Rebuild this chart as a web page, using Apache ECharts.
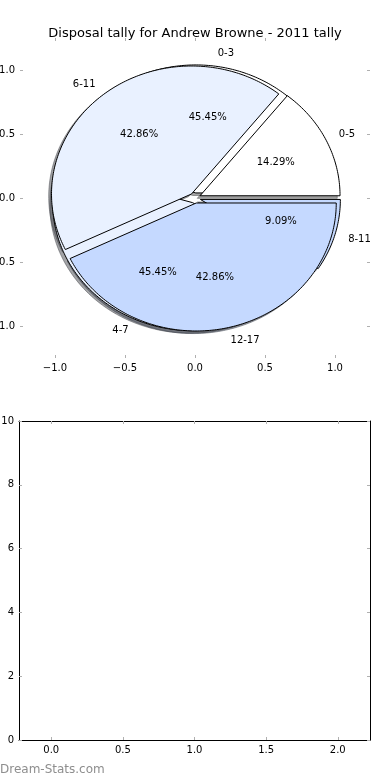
<!DOCTYPE html>
<html><head><meta charset="utf-8">
<script src="https://cdn.jsdelivr.net/npm/echarts@6/dist/echarts.min.js"></script>
<style>html,body{margin:0;padding:0;background:#fff}#c{width:390px;height:780px}</style>
</head><body><div id="c"></div>
<script>
// ---- data ----
const chartTitle = 'Disposal tally for Andrew Browne - 2011 tally';
const pieALabels = ['0-5', '6-11', '12-17'];
const pieAValues = [1, 3, 3];
const pieBLabels = ['0-3', '4-7', '8-11'];
const pieBValues = [5, 5, 1];
const pieTicks = [-1.0, -0.5, 0.0, 0.5, 1.0];
const emptyXTicks = [0.0, 0.5, 1.0, 1.5, 2.0];
const emptyYTicks = [0, 2, 4, 6, 8, 10];
const watermark = 'Dream-Stats.com';

// ---- style ----
const sliceColors = ['#ffffff', '#e9f1ff', '#c5d9ff'];
const explode = 0.04;
const FONT = 'DejaVu Sans';

function wedgeList(labels, values) {
  const total = values.reduce((a, b) => a + b, 0);
  let cum = 0;
  return values.map((v, i) => {
    const t1 = cum / total * 360; cum += v; const t2 = cum / total * 360;
    const tm = (t1 + t2) / 2 * Math.PI / 180;
    return { label: labels[i], frac: v / total, t1, t2, tm,
      cx: explode * Math.cos(tm), cy: explode * Math.sin(tm),
      color: sliceColors[i % sliceColors.length] };
  });
}
const wedgesA = wedgeList(pieALabels, pieAValues);
const wedgesB = wedgeList(pieBLabels, pieBValues);
const allWedges = wedgesB.concat(wedgesA);

function wedgePoints(api, w, ox, oy) {
  const pts = [api.coord([w.cx + ox, w.cy + oy])];
  const n = Math.max(4, Math.ceil(w.t2 - w.t1));
  for (let k = 0; k <= n; k++) {
    const a = (w.t1 + (w.t2 - w.t1) * k / n) * Math.PI / 180;
    pts.push(api.coord([w.cx + ox + Math.cos(a), w.cy + oy + Math.sin(a)]));
  }
  return pts;
}
function shade(hex) {
  const r = parseInt(hex.slice(1, 3), 16), g = parseInt(hex.slice(3, 5), 16), b = parseInt(hex.slice(5, 7), 16);
  return 'rgba(' + Math.round(r * 0.3) + ',' + Math.round(g * 0.3) + ',' + Math.round(b * 0.3) + ',0.5)';
}
function wedgeSeries(wedges, z) {
  return {
    type: 'custom', coordinateSystem: 'cartesian2d', xAxisIndex: 0, yAxisIndex: 0, z, clip: false, silent: true,
    data: wedges.map(w => [w.cx, w.cy]),
    renderItem: (params, api) => {
      const w = wedges[params.dataIndex];
      return { type: 'polygon', shape: { points: wedgePoints(api, w, 0, 0) },
        style: { fill: w.color, stroke: '#000', lineWidth: 1, lineJoin: 'miter' } };
    }
  };
}
const shadowSeries = {
  type: 'custom', coordinateSystem: 'cartesian2d', xAxisIndex: 0, yAxisIndex: 0, z: 1, clip: false, silent: true,
  data: allWedges.map(w => [w.cx, w.cy]),
  renderItem: (params, api) => {
    const w = allWedges[params.dataIndex];
    const c = shade(w.color);
    return { type: 'polygon', shape: { points: wedgePoints(api, w, -0.02, -0.02) },
      style: { fill: c, stroke: c, lineWidth: 1 } };
  }
};
const labelSeries = {
  type: 'custom', coordinateSystem: 'cartesian2d', xAxisIndex: 0, yAxisIndex: 0, z: 10, clip: false, silent: true,
  data: allWedges.map(w => [w.cx, w.cy]),
  renderItem: (params, api) => {
    const w = allWedges[params.dataIndex];
    const lx = w.cx + 1.1 * Math.cos(w.tm), ly = w.cy + 1.1 * Math.sin(w.tm);
    const px = w.cx + 0.6 * Math.cos(w.tm), py = w.cy + 0.6 * Math.sin(w.tm);
    const lp = api.coord([lx, ly]), pp = api.coord([px, py]);
    return { type: 'group', children: [
      { type: 'text', x: lp[0], y: lp[1], style: { text: w.label, fill: '#000', font: '10px ' + FONT,
        align: lx > 0 ? 'left' : 'right', verticalAlign: 'middle' } },
      { type: 'text', x: pp[0], y: pp[1], style: { text: (w.frac * 100).toFixed(2) + '%', fill: '#000', font: '10px ' + FONT,
        align: 'center', verticalAlign: 'middle' } }
    ] };
  }
};

const fmt = v => Number(v).toFixed(1).replace('-', '\u2212');
const tickStyle = { color: '#b0b0b0', width: 1 };
function ax(grid, pos, min, max, ticks, labels, lineShow, formatter) {
  return { type: 'value', gridIndex: grid, position: pos, min, max,
    axisLine: { show: lineShow, onZero: false, lineStyle: { color: '#000', width: 1 } },
    splitLine: { show: false },
    axisTick: { show: true, inside: true, length: 3, lineStyle: tickStyle, customValues: ticks },
    axisLabel: { show: labels, customValues: ticks, formatter, color: '#000', fontFamily: FONT, fontSize: 10, margin: 5, hideOverlap: false } };
}

const option = {
  animation: false,
  backgroundColor: '#fff',
  title: { text: chartTitle, left: 'center', top: 22, textStyle: { fontFamily: FONT, fontSize: 13, fontWeight: 'normal', color: '#000' } },
  grid: [
    { left: 20, width: 350, top: 38, height: 320, outerBoundsMode: 'none', containLabel: false },
    { left: 19, width: 351, top: 421, height: 319, outerBoundsMode: 'none', containLabel: false }
  ],
  xAxis: [
    ax(0, 'bottom', -1.25, 1.25, pieTicks, true, false, fmt),
    ax(0, 'top', -1.25, 1.25, pieTicks, false, false, fmt),
    ax(1, 'bottom', -0.225, 2.225, emptyXTicks, true, true, fmt),
    ax(1, 'top', -0.225, 2.225, emptyXTicks, false, true, fmt)
  ],
  yAxis: [
    ax(0, 'left', -1.25, 1.25, pieTicks, true, false, fmt),
    ax(0, 'right', -1.25, 1.25, pieTicks, false, false, fmt),
    ax(1, 'left', 0, 10, emptyYTicks, true, true, v => String(v)),
    ax(1, 'right', 0, 10, emptyYTicks, false, true, v => String(v))
  ],
  graphic: [{ type: 'text', left: 0, top: 764, style: { text: watermark, fill: '#8e8e8e', font: '12px ' + FONT } }],
  series: [shadowSeries, wedgeSeries(wedgesB, 2), wedgeSeries(wedgesA, 3), labelSeries]
};
const chart = echarts.init(document.getElementById('c'), null, { renderer: 'canvas' });
chart.setOption(option);
</script></body></html>
